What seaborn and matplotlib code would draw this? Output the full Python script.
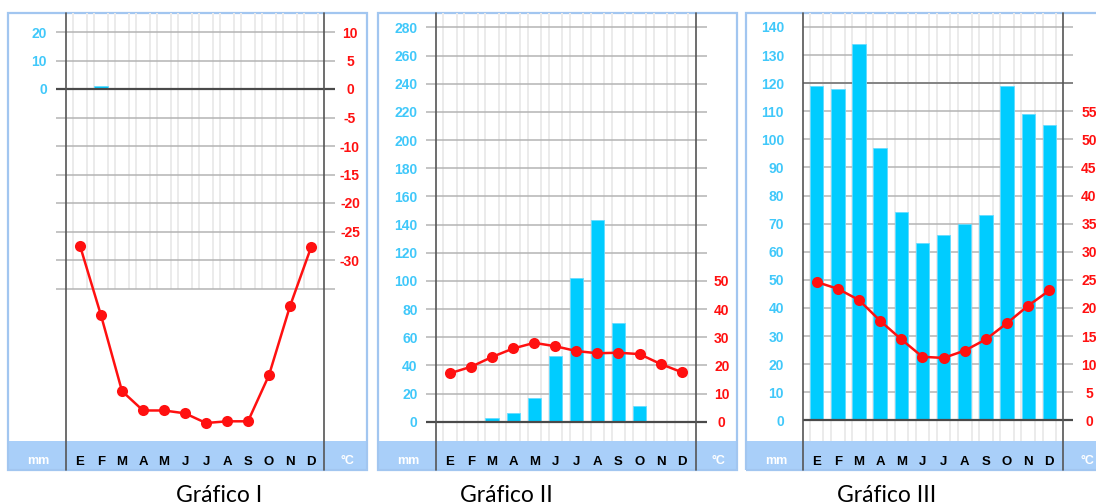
import numpy as np
import matplotlib
matplotlib.use("Agg")
import matplotlib.pyplot as plt
from matplotlib.patches import Rectangle
import seaborn as sns

W, H = 1096, 504

meses = ["E", "F", "M", "A", "M", "J", "J", "A", "S", "O", "N", "D"]

# Gráfico I
prec_1 = [0.3, 1.0, 0, 0, 0, 0, 0, 0, 0, 0, 0, 0.3]
temp_1 = [-27.5, -39.7, -53.0, -56.4, -56.4, -56.9, -58.6, -58.3, -58.3, -50.2, -38.1, -27.8]
mm_ticks_1 = [0, 10, 20]
c_ticks_1 = [10, 5, 0, -5, -10, -15, -20, -25, -30]

# Gráfico II
prec_2 = [0, 0, 2.8, 6, 17, 47, 102, 143, 70, 11, 0, 0]
temp_2 = [17.2, 19.5, 23.0, 26.0, 28.0, 26.8, 25.1, 24.3, 24.5, 24.0, 20.5, 17.6]
mm_ticks_2 = list(range(0, 281, 20))
c_ticks_2 = [0, 10, 20, 30, 40, 50]

# Gráfico III
prec_3 = [119, 118, 134, 97, 74, 63, 66, 70, 73, 119, 109, 105]
temp_3 = [24.6, 23.4, 21.4, 17.7, 14.4, 11.3, 11.1, 12.4, 14.4, 17.3, 20.4, 23.1]
mm_ticks_3 = list(range(0, 141, 10))
c_ticks_3 = list(range(0, 56, 5))

titulos = ["Gráfico I", "Gráfico II", "Gráfico III"]

# ---- style ----
BAR = "#00ccff"
RED = "#ff1010"
BLUE_TXT = "#40c8fa"
BAND = "#a9cff9"
BORDER = "#a2c6f0"
GRID = "#b4b4b4"
MINOR = "#ebebeb"
DARK = "#555555"

sns.set_theme(style="white")
plt.rcParams["font.family"] = ["Liberation Sans", "DejaVu Sans"]


def fig_rect(x0, y0, x1, y1):
    return [x0 / W, 1 - y1 / H, (x1 - x0) / W, (y1 - y0) / H]


def panel(fig, prec, temp, mm_ticks, c_ticks, g):
    idx = np.arange(12)
    top, bot, band_bot = 13, 441, 470
    # box + bottom band
    bx0, bx1 = g["box"]
    fig.add_artist(Rectangle((bx0 / W, 1 - band_bot / H), (bx1 - bx0) / W, (band_bot - bot) / H,
                             transform=fig.transFigure, facecolor=BAND, edgecolor="none", zorder=-2))
    fig.add_artist(Rectangle((bx0 / W, 1 - band_bot / H), (bx1 - bx0) / W, (band_bot - top) / H,
                             transform=fig.transFigure, facecolor="none", edgecolor=BORDER,
                             lw=1.6, zorder=-1))

    ax0, ax1 = g["ax"]
    ax = fig.add_axes(fig_rect(ax0, top, ax1, bot))
    ax.set_facecolor("none")

    sns.barplot(x=idx, y=prec, ax=ax, color=BAR, saturation=1, width=0.63,
                edgecolor="#66dcff", linewidth=0.6, zorder=2)

    # scales from pixel geometry: mm axis, temperature = mm / 2
    z, ppu = g["zero"], g["ppu"]
    ax.set_ylim((z - bot) / ppu, (z - top) / ppu)
    e, sp = g["e"], g["sp"]
    ax.set_xlim((ax0 - e) / sp, (ax1 - e) / sp)

    ax2 = ax.twinx()
    ax2.set_ylim(ax.get_ylim()[0] / 2, ax.get_ylim()[1] / 2)
    sns.lineplot(x=idx, y=temp, ax=ax2, color=RED, lw=1.8, marker="o", markersize=8,
                 markeredgewidth=0, zorder=5)

    # grid
    edges = np.concatenate([idx - 0.32, idx + 0.32])
    ax.vlines(edges, g["minor_low"], ax.get_ylim()[1], color=MINOR, lw=1.4, zorder=0.5)
    for v in mm_ticks:
        ax.axhline(v, color=GRID, lw=1.1, zorder=0.8)
    for v in g.get("extra_c_grid", []):
        ax.axhline(2 * v, color=GRID, lw=1.1, zorder=0.8)
    for v in g.get("dark", []):
        ax.axhline(v, color="#7a7a7a", lw=1.2, zorder=0.9)
    ax.axhline(0, color="#4a4a4a", lw=1.6, zorder=3)
    for f in g["frame"]:
        xf = (f - e) / sp
        ax.axvline(xf, ymin=-(band_bot - bot) / (bot - top), ymax=1, clip_on=False,
                   color=DARK, lw=1.2, zorder=3)

    # ticks
    ax.set_xticks(idx)
    ax.set_xticklabels(meses, fontweight="bold", fontsize=9.5, color="#000000")
    ax.tick_params(axis="x", length=0, pad=11)
    ax.set_yticks(mm_ticks)
    ax.set_yticklabels([str(v) for v in mm_ticks], fontweight="bold", fontsize=10)
    ax.tick_params(axis="y", length=0, pad=g["lpad"], labelcolor=BLUE_TXT)
    ax2.set_yticks(c_ticks)
    ax2.set_yticklabels([str(v) for v in c_ticks], fontweight="bold", fontsize=10)
    ax2.tick_params(axis="y", length=0, pad=g["rpad"], labelcolor=RED)
    plt.setp(ax2.get_yticklabels(), ha="center")
    ax.set_xlabel("")
    ax.set_ylabel("")
    ax2.set_ylabel("")
    for a in (ax, ax2):
        for s in a.spines.values():
            s.set_visible(False)

    # band labels and caption
    fig.text(g["mm_x"] / W, 1 - 461 / H, "mm", color="white", fontweight="bold",
             fontsize=9, ha="center", va="center", zorder=6)
    fig.text(g["c_x"] / W, 1 - 461 / H, "°C", color="white", fontweight="bold",
             fontsize=9, ha="center", va="center", zorder=6)
    fig.text(g["cap_x"] / W, 1 - 502 / H, g["title"], fontsize=16.5, family="Lato",
             ha="center", va="baseline", color="black")


def main():
    fig = plt.figure(figsize=(W / 100, H / 100), dpi=100)

    geo_1 = dict(box=(8, 367), ax=(56, 335), zero=89, ppu=2.85, e=80, sp=21,
                 frame=(66, 324), minor_low=-70, extra_c_grid=[-5, -10, -15, -20, -25, -30, -35],
                 lpad=6.5, rpad=10.8, mm_x=38, c_x=347, cap_x=219, title=titulos[0])
    geo_2 = dict(box=(378, 737), ax=(426, 707), zero=421.7, ppu=1.408, e=450, sp=21.06,
                 frame=(436, 696), minor_low=-20, lpad=6, rpad=10.6,
                 mm_x=408, c_x=718, cap_x=506, title=titulos[1])
    geo_3 = dict(box=(746, 1104), ax=(803, 1073), zero=420.3, ppu=2.81, e=816.7, sp=21.15,
                 frame=(803, 1063), minor_low=-10, dark=[120], lpad=13.7, rpad=11.5,
                 mm_x=776, c_x=1087, cap_x=887, title=titulos[2])

    panel(fig, prec_1, temp_1, mm_ticks_1, c_ticks_1, geo_1)
    panel(fig, prec_2, temp_2, mm_ticks_2, c_ticks_2, geo_2)
    panel(fig, prec_3, temp_3, mm_ticks_3, c_ticks_3, geo_3)

    fig.savefig("out.png", dpi=100, facecolor="white")


if __name__ == "__main__":
    main()
